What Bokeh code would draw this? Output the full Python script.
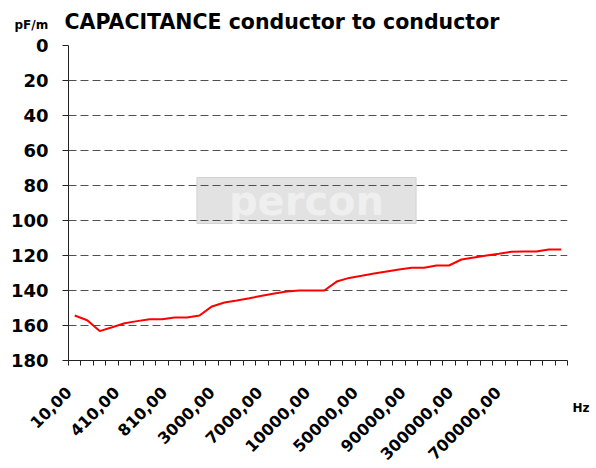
import math
from bokeh.plotting import figure
from bokeh.models import Range1d, FixedTicker, LinearAxis, Label, Title
from bokeh.embed import file_html
from bokeh.resources import INLINE

# ---- data ----
freq_hz = [10, 110, 210, 310, 410, 510, 610, 710, 810, 910,
           1000, 2000, 3000, 4000, 5000, 6000, 7000, 8000, 9000, 9500,
           10000, 20000, 30000, 40000, 50000, 60000, 70000, 80000, 90000, 100000,
           150000, 200000, 300000, 400000, 500000, 600000, 700000, 800000, 900000, 1000000]
capacitance_pf_m = [154.3, 157.0, 163.2, 161.0, 158.7, 157.5, 156.4, 156.4, 155.4, 155.4,
                    154.3, 149.1, 146.9, 145.7, 144.4, 143.0, 141.7, 140.6, 140.0, 140.0,
                    140.0, 134.9, 132.8, 131.6, 130.3, 129.1, 128.0, 127.0, 127.0, 125.7,
                    125.7, 122.3, 121.1, 120.0, 119.0, 117.9, 117.7, 117.7, 116.6, 116.6]
y_ticks = [0, 20, 40, 60, 80, 100, 120, 140, 160, 180]
label_step = 4
y_unit_text = "pF/m"
x_unit_text = "Hz"
title_text = "CAPACITANCE conductor to conductor"

n = len(freq_hz)
cat_labels = [f"{f},00" for f in freq_hz]
x_pos = [i + 0.5 for i in range(n)]

p = figure(width=596, height=468, output_backend="svg", toolbar_location=None,
           x_range=Range1d(0, n), y_range=Range1d(180, 0),
           min_border_left=68, min_border_right=29, min_border_top=45,
           min_border_bottom=108)
p.outline_line_color = None
p.background_fill_color = "white"
p.border_fill_color = "white"

# main title (outermost, pulled down into the row of the unit text)
p.title.text = title_text
p.title.align = "left"
p.title.offset = -4
p.title.standoff = -64
p.title.text_font = "DejaVu Sans"
p.title.text_font_style = "bold"
p.title.text_font_size = "20.5px"
p.title.text_color = "black"

# unit of y, in the panel right above the frame
p.add_layout(Title(text=y_unit_text, align="left", offset=-54, standoff=28,
                   text_font="DejaVu Sans", text_font_style="bold",
                   text_font_size="12px", text_color="black"), "above")

p.xgrid.visible = False
p.ygrid.ticker = FixedTicker(ticks=y_ticks)
p.ygrid.grid_line_color = "#505050"
p.ygrid.grid_line_dash = "8 4"
p.ygrid.grid_line_width = 1

# x axis: tick marks on the category boundaries (minor ticks only, no labels)
xa = p.xaxis[0]
xa.ticker = FixedTicker(ticks=[], minor_ticks=list(range(n + 1)))
xa.major_tick_line_color = None
xa.major_tick_out = 0
xa.major_tick_in = 0
xa.major_label_standoff = 0
xa.minor_tick_out = 5
xa.minor_tick_in = 0
xa.minor_tick_line_color = "#222222"
xa.axis_line_color = "#222222"

# category labels (every 4th) on a label-only axis below
p.extra_x_ranges = {"lab": Range1d(0.49, 42.33)}
lab_ticks = x_pos[::label_step]
lab_axis = LinearAxis(x_range_name="lab",
                      ticker=FixedTicker(ticks=lab_ticks),
                      major_label_overrides={t: s for t, s in zip(lab_ticks, cat_labels[::label_step])},
                      major_label_orientation=math.pi / 4,
                      major_label_text_font="DejaVu Sans",
                      major_label_text_font_style="bold",
                      major_label_text_font_size="16px",
                      major_label_text_color="black",
                      major_label_standoff=24,
                      axis_line_color=None, major_tick_line_color=None,
                      minor_tick_line_color=None,
                      major_tick_out=0, major_tick_in=0)
p.add_layout(lab_axis, "below")

# unit of x, below the right end of the axis
p.add_layout(Title(text=x_unit_text, align="right", offset=-22, standoff=-136,
                   vertical_align="top",
                   text_font="DejaVu Sans", text_font_style="bold",
                   text_font_size="12px", text_color="black"), "below")

ya = p.yaxis[0]
ya.ticker = FixedTicker(ticks=y_ticks)
ya.major_label_text_font = "DejaVu Sans"
ya.major_label_text_font_style = "bold"
ya.major_label_text_font_size = "18px"
ya.major_label_text_color = "black"
ya.major_label_standoff = 14
ya.major_tick_out = 6
ya.major_tick_in = 0
ya.minor_tick_line_color = None
ya.axis_line_color = "#222222"
ya.major_tick_line_color = "#222222"

# watermark
wm = Label(x=0, y=0, x_offset=238, y_offset=-155, text="percon",
           text_align="center", text_baseline="middle",
           text_font="DejaVu Sans", text_font_style="bold", text_font_size="40px",
           text_color="#efefef",
           background_fill_color="#e2e2e2", background_fill_alpha=1.0,
           border_line_color="#d2d2d2", padding=(32, 0), level="image")
p.add_layout(wm)

p.line(x_pos, capacitance_pf_m, line_color="#ff0000", line_width=2)

open("out.html", "w").write(file_html(p, INLINE))
